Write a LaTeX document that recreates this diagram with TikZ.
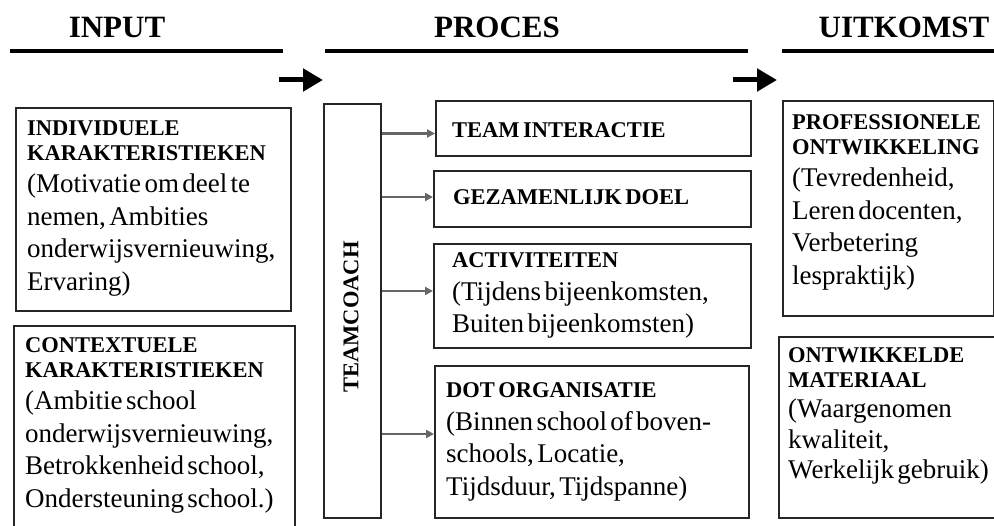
\documentclass[tikz,border=0pt]{standalone}
\usepackage{fontspec}
\setmainfont{Liberation Serif}
\usetikzlibrary{arrows.meta}
\newcommand{\hdf}{\fontsize{22.5}{24.5}\selectfont\bfseries}
\newcommand{\bdf}{\fontsize{27}{32.5}\selectfont\mdseries}
\begin{document}
\begin{tikzpicture}[x=1pt,y=-1pt,
  box/.style={draw=black!85, line width=2pt, inner sep=0pt, anchor=north west},
  txt/.style={anchor=base west, inner sep=0pt, text width=330pt},
  hdr/.style={font=\fontsize{31}{33}\selectfont\bfseries, anchor=base, inner sep=0pt},
  hline/.style={line width=4.5pt},
  bigarrow/.style={line width=5pt, -{Triangle[length=20pt,width=22pt]}},
  smallarrow/.style={line width=2.2pt, draw=black!60, -{Triangle[length=8pt,width=8pt]}}]
\useasboundingbox (0,0) rectangle (994,526);

% headers
\node[hdr] (hin) at (117,38) {INPUT};
\node[hdr] (hpr) at (497,38) {PROCES};
\node[hdr] (huit) at (904,38) {UITKOMST};
\draw[hline] (10,51) -- (283,51);
\draw[hline] (325,51) -- (748,51);
\draw[hline] (782,51) -- (994,51);

% big arrows
\coordinate (a1s) at (279,80);
\coordinate (a1e) at (323,80);
\coordinate (a2s) at (733,80);
\coordinate (a2e) at (777,80);
\draw[bigarrow] (a1s) -- (a1e);
\draw[bigarrow] (a2s) -- (a2e);

% boxes
\node[box, minimum width=275pt, minimum height=203pt] (ind) at (15,107) {};
\node[box, minimum width=281pt, minimum height=210pt] (con) at (13,325) {};
\node[box, minimum width=57pt, minimum height=414pt] (tc) at (323,103) {};
\node[box, minimum width=315pt, minimum height=55pt] (team) at (435,100) {};
\node[box, minimum width=317pt, minimum height=56pt] (gez) at (433,170) {};
\node[box, minimum width=317pt, minimum height=104pt] (act) at (433,243) {};
\node[box, minimum width=314pt, minimum height=152pt] (dot) at (434,365) {};
\node[box, minimum width=211pt, minimum height=215pt] (prof) at (782,100) {};
\node[box, minimum width=222pt, minimum height=181pt] (ontm) at (778,336) {};

% texts
\node[txt] (indt) at (27,136) {\raggedright\hdf INDIVIDUELE\\KARAKTERISTIEKEN\par\noindent\bdf (Motivatie om deel te\\nemen, Ambities\\onderwijsvernieuwing,\\Ervaring)\par};
\node[txt] (cont) at (25,353) {\raggedright\hdf CONTEXTUELE\\KARAKTERISTIEKEN\par\noindent\bdf (Ambitie school\\onderwijsvernieuwing,\\Betrokkenheid school,\\Ondersteuning school.)\par};
\node[rotate=90, inner sep=0pt, font=\hdf] (tct) at (351,317) {TEAMCOACH};
\node[txt] (teamt) at (452,138) {\raggedright\hdf TEAM INTERACTIE\par};
\node[txt] (gezt) at (453,205) {\raggedright\hdf GEZAMENLIJK DOEL\par};
\node[txt] (actt) at (452,268) {\raggedright\hdf ACTIVITEITEN\par\noindent\bdf (Tijdens bijeenkomsten,\\Buiten bijeenkomsten)\par};
\node[txt] (dott) at (446,398) {\raggedright\hdf DOT ORGANISATIE\par\noindent\bdf (Binnen school of boven-\\schools, Locatie,\\Tijdsduur, Tijdspanne)\par};
\node[txt] (proft) at (792,130) {\raggedright\hdf PROFESSIONELE\\ONTWIKKELING\par\noindent\bdf (Tevredenheid,\\Leren docenten,\\Verbetering\\lespraktijk)\par};
\node[txt] (ontmt) at (788,363) {\raggedright\hdf ONTWIKKELDE\\MATERIAAL\par\noindent\fontsize{27}{30.5}\selectfont\mdseries (Waargenomen\\kwaliteit,\\Werkelijk gebruik)\par};

% small arrows
\coordinate (teamin) at ([yshift=-5pt]team.west);
\coordinate (gezin) at ([yshift=2pt]gez.west);
\coordinate (actin) at ([yshift=5pt]act.west);
\coordinate (dotin) at ([yshift=8pt]dot.west);
\draw[smallarrow] (tc.east |- teamin) -- (teamin);
\draw[smallarrow] (tc.east |- gezin) -- (gezin);
\draw[smallarrow] (tc.east |- actin) -- (actin);
\draw[smallarrow] (tc.east |- dotin) -- (dotin);
\end{tikzpicture}
\end{document}
